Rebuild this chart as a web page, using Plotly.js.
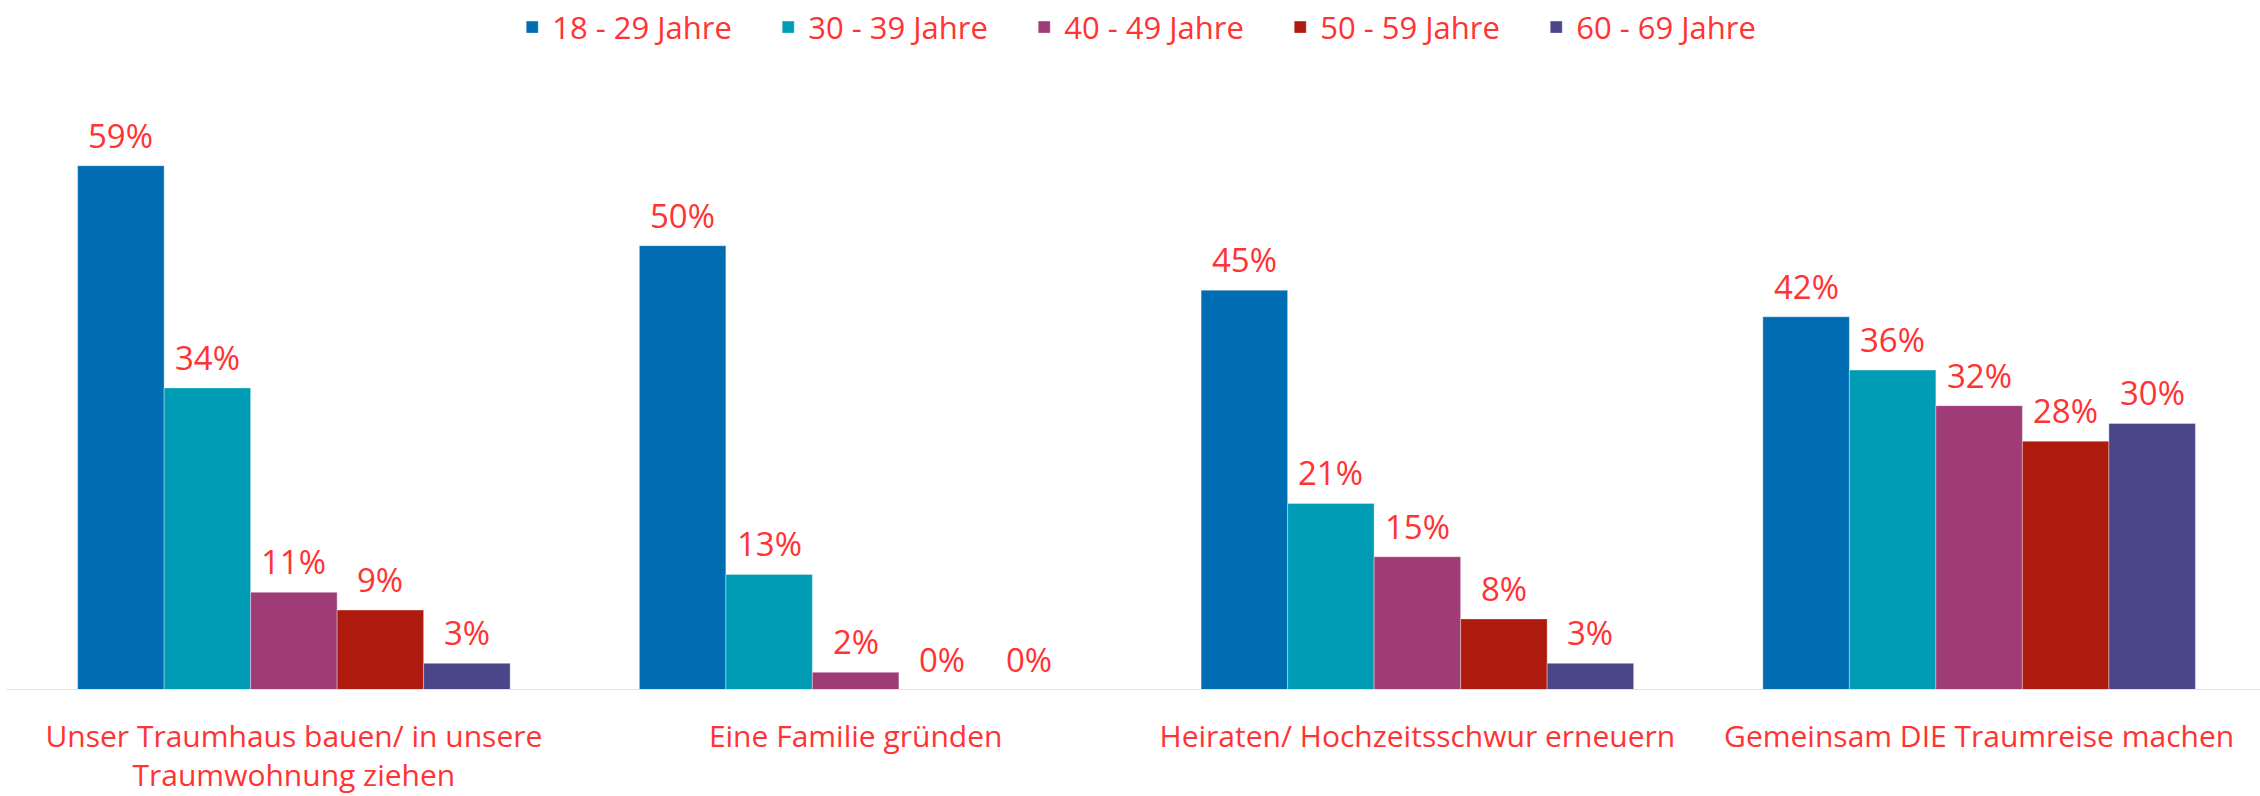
<!DOCTYPE html>
<html>
<head>
<meta charset="utf-8">
<script src="https://cdn.plot.ly/plotly-3.0.1.min.js"></script>
<style>html,body{margin:0;padding:0;background:#fff;}#chart{width:2260px;height:796px;}</style>
</head>
<body>
<div id="chart"></div>
<script>
const categories = [
  "Unser Traumhaus bauen/ in unsere<br>Traumwohnung ziehen",
  "Eine Familie gründen",
  "Heiraten/ Hochzeitsschwur erneuern",
  "Gemeinsam DIE Traumreise machen"
];
const seriesNames = ["18 - 29 Jahre", "30 - 39 Jahre", "40 - 49 Jahre", "50 - 59 Jahre", "60 - 69 Jahre"];
const age18_29 = [59, 50, 45, 42];
const age30_39 = [34, 13, 21, 36];
const age40_49 = [11, 2, 15, 32];
const age50_59 = [9, 0, 8, 28];
const age60_69 = [3, 0, 3, 30];
const seriesValues = [age18_29, age30_39, age40_49, age50_59, age60_69];
const colors = ["#006db3", "#009cb6", "#9f3c78", "#ae1a0d", "#4b4689"];

const textRed = "#ff3333";
const fontFamily = "'Open Sans', 'Noto Sans', sans-serif";
const bargap = 0.23;

const traces = seriesNames.map((name, j) => ({
  type: "bar",
  name: name,
  x: categories.map((c, i) => i),
  y: seriesValues[j],
  marker: { color: colors[j], line: { color: "rgba(255,255,255,0.35)", width: 1 } },
  hoverinfo: "skip"
}));

const n = seriesNames.length;
const barW = (1 - bargap) / n;
const annotations = [];
seriesValues.forEach((vals, j) => {
  vals.forEach((v, i) => {
    annotations.push({
      x: i - (1 - bargap) / 2 + barW * (j + 0.5),
      y: v,
      xref: "x", yref: "y",
      text: v + "%",
      showarrow: false,
      yanchor: "bottom",
      yshift: 6,
      font: { family: fontFamily, size: 33, color: textRed }
    });
  });
});

const layout = {
  width: 2260,
  height: 796,
  margin: { l: 13, r: 0, t: 100, b: 106 },
  paper_bgcolor: "#ffffff",
  plot_bgcolor: "#ffffff",
  barmode: "group",
  bargap: bargap,
  bargroupgap: 0,
  showlegend: true,
  legend: {
    orientation: "h",
    x: 0.507, xanchor: "center",
    yref: "container", y: 0.9655, yanchor: "middle",
    entrywidth: 211,
    entrywidthmode: "pixels",
    font: { family: fontFamily, size: 31, color: textRed },
    traceorder: "normal"
  },
  xaxis: {
    type: "linear",
    range: [-0.5, categories.length - 0.5],
    tickmode: "array",
    tickvals: categories.map((c, i) => i),
    ticktext: categories,
    showgrid: false, zeroline: false, showline: false,
    ticks: "",
    ticklabelstandoff: 26,
    tickfont: { family: fontFamily, size: 30, color: textRed },
    fixedrange: true
  },
  yaxis: {
    range: [0, 66.4],
    visible: false,
    showgrid: false, zeroline: false,
    fixedrange: true
  },
  shapes: [{
    type: "line", xref: "paper", yref: "y",
    x0: -0.003, x1: 1, y0: 0, y1: 0,
    line: { color: "#ffd6d6", width: 2 },
    layer: "above"
  }],
  annotations: annotations
};

Plotly.newPlot("chart", traces, layout, { displayModeBar: false, staticPlot: true });
</script>
</body>
</html>
